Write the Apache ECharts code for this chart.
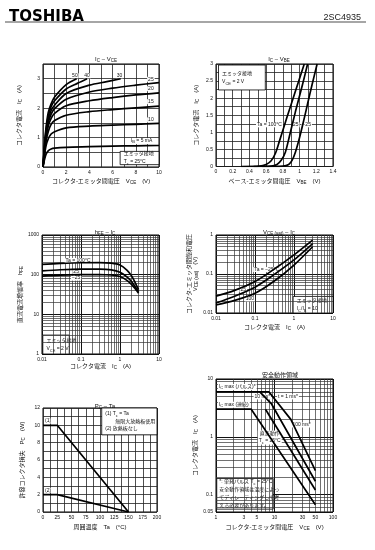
<!DOCTYPE html>
<html>
<head>
<meta charset="utf-8">
<script src="https://cdn.jsdelivr.net/npm/echarts@6/dist/echarts.min.js"></script>
<style>
  html, body { margin: 0; padding: 0; background: #fff; }
  #chart { width: 375px; height: 550px; }
</style>
</head>
<body>
<div id="chart"></div>
<script>
// --- data ---

// IC - VCE (common emitter, Tc = 25°C), one curve per base current
const ib5mA  = [[0,0],[0.1,0.2],[0.25,0.42],[0.45,0.55],[0.7,0.61],[1,0.64],[2,0.67],[4,0.69],[6,0.71],[8,0.72],[10,0.73]];
const ib10mA = [[0,0],[0.1,0.3],[0.25,0.7],[0.45,0.95],[0.7,1.12],[1,1.2],[2,1.33],[4,1.39],[6,1.42],[8,1.45],[10,1.48]];
const ib15mA = [[0,0],[0.1,0.35],[0.25,0.85],[0.45,1.2],[0.7,1.45],[1,1.58],[2,1.76],[4,1.88],[6,1.95],[8,2.01],[10,2.07]];
const ib20mA = [[0,0],[0.1,0.4],[0.25,0.95],[0.45,1.38],[0.7,1.65],[1,1.82],[2,2.08],[4,2.25],[6,2.36],[8,2.45],[10,2.52]];
const ib25mA = [[0,0],[0.1,0.45],[0.25,1.05],[0.45,1.5],[0.7,1.8],[1,1.98],[2,2.3],[4,2.55],[6,2.68],[8,2.78],[10,2.87]];
const ib30mA = [[0,0],[0.1,0.5],[0.25,1.12],[0.45,1.6],[0.7,1.92],[1,2.1],[2,2.5],[4,2.78],[5.5,2.9],[6.7,3.0]];
const ib40mA = [[0,0],[0.1,0.55],[0.25,1.2],[0.45,1.72],[0.7,2.05],[1,2.25],[2,2.65],[3,2.85],[3.8,3.0]];
const ib50mA = [[0,0],[0.1,0.6],[0.25,1.3],[0.45,1.85],[0.7,2.15],[1,2.38],[2,2.8],[2.9,3.0]];

// IC - VBE (VCE = 2 V)
const vbeTa100 = [[0.3,0],[0.52,0.01],[0.6,0.06],[0.66,0.17],[0.71,0.38],[0.76,0.75],[0.85,1.45],[0.95,2.2],[1.056,3]];
const vbeTa25  = [[0.45,0],[0.66,0.01],[0.73,0.06],[0.78,0.18],[0.83,0.42],[0.88,0.9],[0.95,1.6],[1.03,2.35],[1.096,3]];
const vbeTaM25 = [[0.55,0],[0.8,0.01],[0.87,0.06],[0.91,0.18],[0.95,0.42],[1.0,0.85],[1.05,1.35],[1.1,1.88],[1.15,2.4],[1.21,3]];

// hFE - IC (VCE = 2 V)
const hfeTa100 = [[0.01,182],[0.03,192],[0.1,200],[0.3,202],[0.6,195],[1,175],[1.5,130],[2,92],[2.5,60],[3,42]];
const hfeTa25  = [[0.01,124],[0.03,133],[0.1,138],[0.3,138],[0.6,132],[1,115],[1.5,88],[2,66],[2.5,48],[3,37]];
const hfeTaM25 = [[0.01,92],[0.03,97],[0.1,100],[0.3,101],[0.6,98],[1,90],[1.5,72],[2,56],[2.5,43],[3,34]];

// VCE(sat) - IC (IC/IB = 10)
const satTaM25 = [[0.01,0.027],[0.03,0.038],[0.1,0.064],[0.3,0.13],[1,0.31],[3,0.74]];
const satTa25  = [[0.01,0.018],[0.03,0.027],[0.1,0.046],[0.3,0.095],[1,0.23],[3,0.6]];
const satTa100 = [[0.01,0.016],[0.03,0.021],[0.1,0.032],[0.3,0.064],[1,0.17],[3,0.5]];

// PC - Ta
const pcInfSink = [[0,10],[25,10],[150,0]];
const pcNoSink  = [[0,2],[25,2],[150,0]];

// safe operating area
const soa1ms   = [[1,6],[8,6],[19,2],[50,0.26]];
const soa10ms  = [[5.6,6],[8.9,3.7],[50,0.17]];
const soa100ms = [[7,3],[50,0.12]];
const soaDc    = [[1,3],[4,3],[50,0.067]];

// extra tick labels on the SOA voltage axis
const soaExtraTicks = [3, 5, 30, 50];

// --- helpers ---
const FONT = "'Liberation Sans', 'Noto Sans CJK JP', sans-serif";
const TXT = '#111';
const R = {
  n: { fontSize: 6, color: TXT, fontFamily: FONT },
  s: { fontSize: 4.5, color: TXT, fontFamily: FONT, verticalAlign: 'bottom', padding: [3, 0, 0, 0] }
};
const R5 = {
  n: { fontSize: 5, color: TXT, fontFamily: FONT },
  s: { fontSize: 4, color: TXT, fontFamily: FONT, verticalAlign: 'bottom', padding: [2, 0, 0, 0] }
};

function logMinors(lo, hi) {
  const out = [];
  for (let e = Math.floor(Math.log10(lo)); e < Math.ceil(Math.log10(hi)); e++) {
    for (let m = 2; m <= 9; m++) {
      const v = +(m * Math.pow(10, e)).toPrecision(3);
      if (v > lo * 1.0001 && v < hi * 0.9999) out.push(v);
    }
  }
  return out;
}

function linAxis(gi, min, max, step, every, extra) {
  return Object.assign({
    type: 'value', gridIndex: gi, min, max, interval: step,
    axisLine: { show: false }, axisTick: { show: false },
    splitLine: { show: true, lineStyle: { color: '#222', width: 0.8 } },
    axisLabel: {
      fontSize: 5, color: TXT, margin: 3, fontFamily: FONT,
      formatter: v => {
        const k = v / every;
        return Math.abs(k - Math.round(k)) < 1e-6 ? String(+v.toFixed(2)) : '';
      }
    }
  }, extra);
}

function logAxis(gi, min, max, extra) {
  return Object.assign({
    type: 'log', gridIndex: gi, min, max, logBase: 10,
    axisLine: { show: false }, axisTick: { show: false },
    splitLine: { show: true, lineStyle: { color: '#111', width: 1 } },
    axisLabel: { fontSize: 5, color: TXT, margin: 3, fontFamily: FONT, formatter: v => String(+(+v).toPrecision(3)) }
  }, extra);
}

function axisName(text, gap) {
  return { name: text, nameLocation: 'middle', nameGap: gap, nameTextStyle: { fontSize: 6, color: TXT, rich: R, fontFamily: FONT } };
}

function curve(gi, data, smooth) {
  return {
    type: 'line', xAxisIndex: gi, yAxisIndex: gi, data, symbol: 'none', smooth: smooth || 0,
    lineStyle: { color: '#000', width: 1.7 }, z: 5, silent: true
  };
}

// thin lines of a log grid (2..9 per decade), plus optional labelled ticks
function logGrid(gi, xs, ys, labelled) {
  const items = xs.map(v => ({ xAxis: v })).concat(ys.map(v => ({ yAxis: v })));
  (labelled || []).forEach(v => items.push({
    xAxis: v, label: { show: true, position: 'start', formatter: String(v), fontSize: 5, color: TXT, distance: 3, fontFamily: FONT }
  }));
  return {
    type: 'line', xAxisIndex: gi, yAxisIndex: gi, data: [], z: 1, silent: true,
    markLine: {
      silent: true, symbol: ['none', 'none'], animation: false,
      lineStyle: { color: '#333', width: 0.7, type: 'solid' },
      label: { show: false }, data: items
    }
  };
}

function notes(gi, items) {
  return {
    type: 'line', xAxisIndex: gi, yAxisIndex: gi, data: [], z: 6, silent: true,
    markPoint: {
      symbol: 'rect', symbolSize: 0, silent: true, animation: false,
      label: { show: true, formatter: '{b}', fontSize: 5, color: TXT, rich: R5, fontFamily: FONT, backgroundColor: '#fff', padding: [0, 1] },
      data: items.map(([name, x, y, lab]) => ({ name, coord: [x, y], label: lab || {} }))
    }
  };
}

function box(gi, text, p1, p2, lab) {
  return {
    type: 'line', xAxisIndex: gi, yAxisIndex: gi, data: [], z: 4, silent: true,
    markArea: {
      silent: true, animation: false,
      itemStyle: { color: '#fff', borderColor: '#000', borderWidth: 0.8, opacity: 1 },
      label: Object.assign({ show: true, position: 'insideLeft', distance: 4, fontSize: 5, lineHeight: 8, color: TXT, rich: R5, fontFamily: FONT }, lab),
      data: [[{ name: text, coord: p1 }, { coord: p2 }]]
    }
  };
}

function heading(text, cx, top) {
  return { text, left: cx, top, textAlign: 'center', textStyle: { fontSize: 6, fontWeight: 'normal', color: TXT, rich: R, fontFamily: FONT } };
}

// --- chart ---
const myChart = echarts.init(document.getElementById('chart'));

const gridBox = { show: true, borderColor: '#000', borderWidth: 1, backgroundColor: '#fff', containLabel: false };

myChart.setOption({
  animation: false,
  backgroundColor: '#fff',
  textStyle: { fontFamily: FONT },
  title: [
    { text: 'TOSHIBA', left: 4, top: 5, textStyle: { fontSize: 15, fontWeight: 900, color: '#000', fontFamily: "'DejaVu Sans', sans-serif" } },
    { text: '2SC4935', right: 9, top: 8, textStyle: { fontSize: 9, fontWeight: 'normal', color: '#222', fontFamily: "'Liberation Sans', sans-serif" } },
    heading('{n|I}{s|C}{n| – V}{s|CE}', 101, 51),
    heading('{n|I}{s|C}{n| – V}{s|BE}', 274, 51),
    heading('{n|h}{s|FE}{n| – I}{s|C}', 100, 224),
    heading('{n|V}{s|CE (sat)}{n| – I}{s|C}', 274, 224),
    heading('{n|P}{s|C}{n| – Ta}', 100, 398),
    heading('{n|安全動作領域}', 275, 367)
  ],
  graphic: [
    { type: 'line', shape: { x1: 5, y1: 22, x2: 366, y2: 22 }, style: { stroke: '#888', lineWidth: 1.5 } }
  ],
  grid: [
    Object.assign({ left: 43, top: 64, width: 116, height: 103 }, gridBox),
    Object.assign({ left: 216, top: 64, width: 117, height: 102.5 }, gridBox),
    Object.assign({ left: 42, top: 235, width: 117, height: 119 }, gridBox),
    Object.assign({ left: 216, top: 235, width: 117, height: 78 }, gridBox),
    Object.assign({ left: 43, top: 408, width: 114, height: 104 }, gridBox),
    Object.assign({ left: 216, top: 379, width: 117, height: 133 }, gridBox)
  ],
  xAxis: [
    linAxis(0, 0, 10, 1, 2, axisName('{n|コレクタ-エミッタ間電圧　V}{s|CE}{n|　(V)}', 11)),
    linAxis(1, 0, 1.4, 0.1, 0.2, axisName('{n|ベース-エミッタ間電圧　V}{s|BE}{n|　(V)}', 11)),
    logAxis(2, 0.01, 10, axisName('{n|コレクタ電流　I}{s|C}{n|　(A)}', 9)),
    logAxis(3, 0.01, 10, axisName('{n|コレクタ電流　I}{s|C}{n|　(A)}', 11)),
    linAxis(4, 0, 200, 12.5, 25, axisName('{n|周囲温度　Ta　(°C)}', 12)),
    logAxis(5, 1, 100, axisName('{n|コレクタ-エミッタ間電圧　V}{s|CE}{n|　(V)}', 12))
  ],
  yAxis: [
    linAxis(0, 0, 3.5, 0.5, 1, axisName('{n|コレクタ電流　I}{s|C}{n|　(A)}', 20)),
    linAxis(1, 0, 3, 0.25, 0.5, axisName('{n|コレクタ電流　I}{s|C}{n|　(A)}', 16)),
    logAxis(2, 1, 1000, axisName('{n|直流電流増幅率　h}{s|FE}', 17)),
    logAxis(3, 0.01, 1, axisName('{n|コレクタ-エミッタ間飽和電圧}\n{n|V}{s|CE (sat)}{n|　(V)}', 15)),
    linAxis(4, 0, 12, 1, 2, axisName('{n|許容コレクタ損失　P}{s|C}{n|　(W)}', 17)),
    logAxis(5, 0.05, 10, axisName('{n|コレクタ電流　I}{s|C}{n|　(A)}', 16))
  ],
  series: [
    // log grids
    logGrid(2, logMinors(0.01, 10), logMinors(1, 1000)),
    logGrid(3, logMinors(0.01, 10), logMinors(0.01, 1)),
    logGrid(5, logMinors(1, 100).filter(v => soaExtraTicks.indexOf(v) < 0), logMinors(0.05, 10), soaExtraTicks),

    // IC - VCE
    curve(0, ib5mA, 0.3), curve(0, ib10mA, 0.3), curve(0, ib15mA, 0.3), curve(0, ib20mA, 0.3),
    curve(0, ib25mA, 0.3), curve(0, ib30mA, 0.3), curve(0, ib40mA, 0.3), curve(0, ib50mA, 0.3),
    notes(0, [
      ['50', 2.75, 3.1], ['40', 3.8, 3.1], ['30', 6.6, 3.1],
      ['25', 9.3, 2.98], ['20', 9.3, 2.66], ['15', 9.3, 2.22], ['10', 9.3, 1.6],
      ['{n|I}{s|B}{n| = 5 mA}', 8.5, 0.88]
    ]),
    box(0, '{n|エミッタ接地}\n{n|T}{s|c}{n| = 25°C}', [6.65, 0.53], [10, 0.08]),

    // IC - VBE
    curve(1, vbeTa100, 0.3), curve(1, vbeTa25, 0.3), curve(1, vbeTaM25, 0.3),
    notes(1, [['Ta = 100°C', 0.64, 1.22], ['25', 0.955, 1.22], ['−25', 1.085, 1.22]]),
    box(1, '{n|エミッタ接地}\n{n|V}{s|CE}{n| = 2 V}', [0.03, 2.97], [0.59, 2.24]),

    // hFE - IC
    curve(2, hfeTa100, 0.3), curve(2, hfeTa25, 0.3), curve(2, hfeTaM25, 0.3),
    notes(2, [['Ta = 100°C', 0.084, 228], ['25', 0.075, 118], ['−25', 0.075, 82]]),
    box(2, '{n|エミッタ接地}\n{n|V}{s|CE}{n| = 2 V}', [0.0105, 3], [0.05, 1]),

    // VCE(sat) - IC
    curve(3, satTaM25, 0.3), curve(3, satTa25, 0.3), curve(3, satTa100, 0.3),
    notes(3, [['Ta = −25°C', 0.2, 0.13], ['25', 0.05, 0.04], ['100', 0.074, 0.023]]),
    box(3, '{n|エミッタ接地}\n{n|I}{s|C}{n|/I}{s|B}{n| = 10}', [0.95, 0.0266], [10, 0.01]),

    // PC - Ta
    curve(4, pcInfSink), curve(4, pcNoSink),
    notes(4, [['(1)', 9, 10.5], ['(2)', 9, 2.5]]),
    box(4, '{n|(1) T}{s|c}{n| = Ta}\n{n|　　無限大放熱板使用}\n{n|(2) 放熱板なし}', [103, 12], [200, 8.9], { lineHeight: 7.5 }),

    // safe operating area
    curve(5, soa1ms), curve(5, soa10ms), curve(5, soa100ms), curve(5, soaDc),
    notes(5, [
      ['{n|I}{s|C}{n| max (パルス)*}', 1.08, 7.3, { align: 'left' }],
      ['{n|I}{s|C}{n| max (連続)}', 1.08, 3.6, { align: 'left' }],
      ['10 ms*', 6.2, 4.9], ['t = 1 ms*', 17, 4.9], ['100 ms*', 29, 1.6],
      ['{n|直流動作}\n{n|T}{s|c}{n| = 25°C}', 8.3, 0.97, { lineHeight: 7 }]
    ]),
    box(5, '{n|*: 単発パルス T}{s|c}{n| = 25°C}\n{n|安全動作領域は温度によっ}\n{n|てディレーティングして考}\n{n|える必要があります。}',
      [1.03, 0.19], [9.5, 0.056], { fontSize: 4.5, lineHeight: 8, distance: 3 })
  ]
});
</script>
</body>
</html>
